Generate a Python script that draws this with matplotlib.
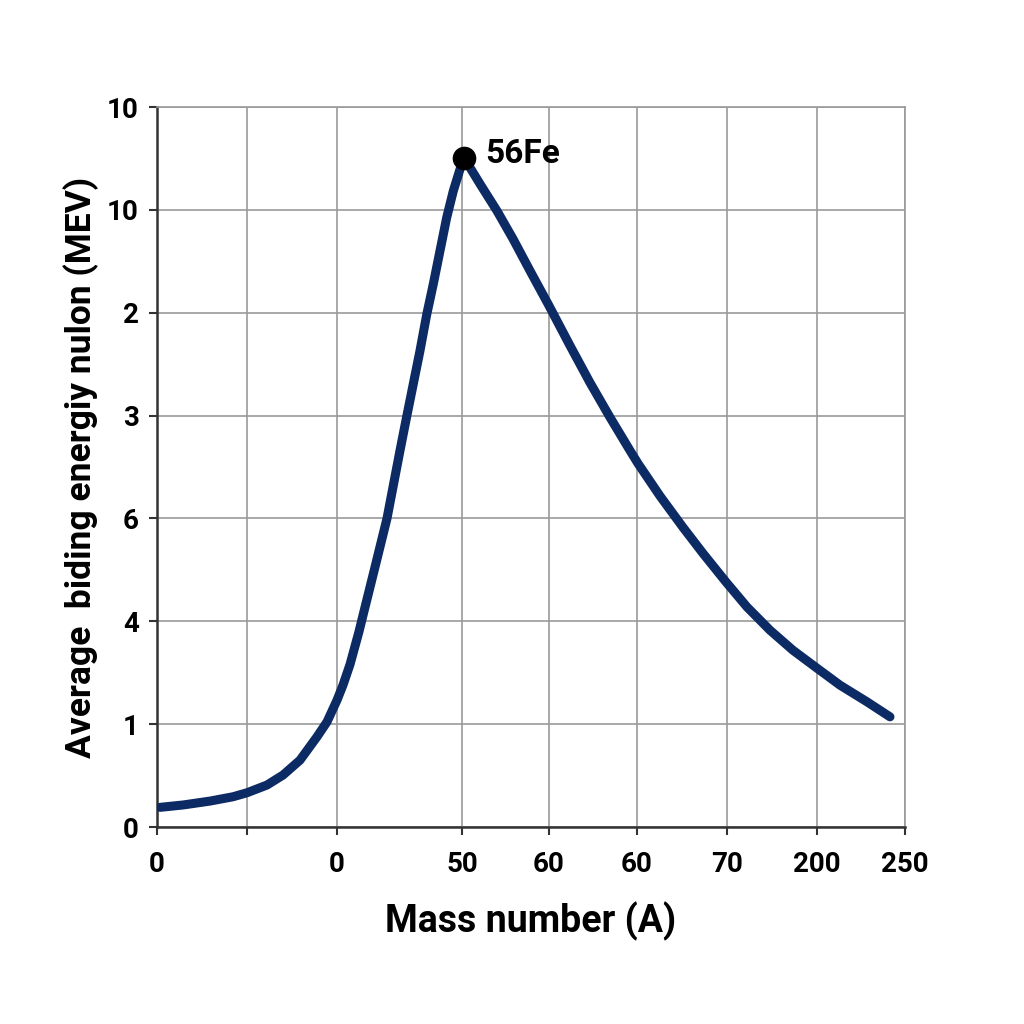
import numpy as np
import matplotlib
matplotlib.use("Agg")
import matplotlib.pyplot as plt

plt.rcParams['font.family'] = ['Roboto', 'DejaVu Sans']
plt.rcParams['font.weight'] = 'bold'

# gridline positions along x (plot units) and their labels
x_ticks = [0, 90, 180, 305, 392, 480, 570, 660, 748]
x_labels = ['0', '', '0', '50', '60', '60', '70', '200', '250']
y_ticks = [0, 1, 2, 3, 4, 5, 6, 7]
y_labels = ['0', '1', '4', '6', '3', '2', '10', '10']

# curve (rising part, peak, falling part)
curve_x = [3, 26, 53, 76, 90, 110, 126, 143, 160, 170, 180, 186, 193, 202,
           206, 218, 230, 243, 249.7, 256.3, 263, 269.7, 276.3, 283, 289.7,
           296.3, 303, 307,
           310, 323, 340, 356, 373, 392, 413, 433, 453, 473, 481, 503, 526,
           546, 569, 590, 613, 636, 660, 683, 710, 733]
curve_y = [0.191, 0.214, 0.252, 0.294, 0.333, 0.408, 0.505, 0.650, 0.877,
           1.022, 1.233, 1.380, 1.580, 1.900, 2.058, 2.527, 3.000, 3.660,
           3.990, 4.308, 4.631, 4.981, 5.279, 5.602, 5.925, 6.184, 6.395,
           6.505,
           6.459, 6.252, 5.990, 5.718, 5.408, 5.068, 4.680, 4.320, 3.983,
           3.660, 3.534, 3.218, 2.913, 2.660, 2.382, 2.139, 1.913, 1.718,
           1.544, 1.379, 1.217, 1.071]

peak_x, peak_y = 307, 6.505
peak_label = '56Fe'

fig = plt.figure(figsize=(10.24, 10.24), dpi=100)
ax = fig.add_axes([157/1024, 1 - 827/1024, 748/1024, 720/1024])

ax.plot(curve_x, curve_y, color='#0c2a63', lw=6.5, solid_capstyle='round',
        solid_joinstyle='round', zorder=3)
ax.plot([peak_x], [peak_y], 'o', color='black', ms=16, zorder=4)
ax.annotate(peak_label, (peak_x, peak_y), xytext=(15, 3),
            textcoords='offset points', ha='left', va='center',
            fontsize=24, fontweight='bold')

ax.set_xlim(0, 748)
ax.set_ylim(0, 7)
ax.set_xticks(x_ticks)
ax.set_xticklabels(x_labels)
ax.set_yticks(y_ticks)
ax.set_yticklabels(y_labels)
ax.grid(True, color='#9a9a9a', lw=1.2)
ax.set_axisbelow(True)

for side in ['top', 'right']:
    ax.spines[side].set_color('#9a9a9a')
    ax.spines[side].set_linewidth(1.2)
for side in ['left', 'bottom']:
    ax.spines[side].set_color('#333333')
    ax.spines[side].set_linewidth(1.8)

ax.tick_params(axis='both', direction='out', length=6, width=1.5,
               color='#333333', labelsize=20)
ax.tick_params(axis='x', pad=11)
ax.tick_params(axis='y', pad=7)

ax.set_xlabel('Mass number (A)', fontsize=27, fontweight='bold', labelpad=17)
ax.set_ylabel('Average  biding energiy nulon (MEV)', fontsize=25.5,
              fontweight='bold', labelpad=6)

fig.savefig('out.png', dpi=100, facecolor='white')
